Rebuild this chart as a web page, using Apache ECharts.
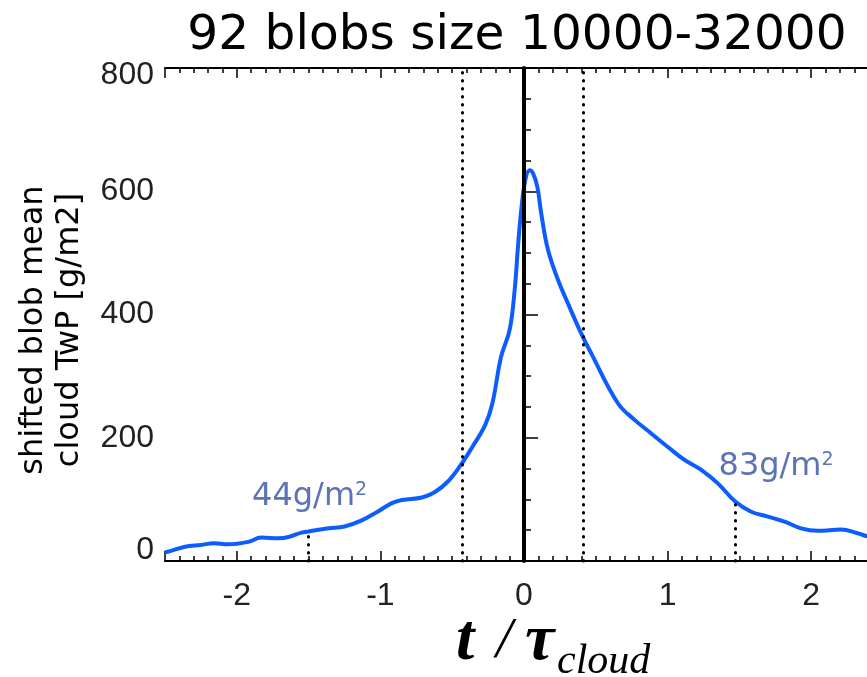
<!DOCTYPE html>
<html>
<head>
<meta charset="utf-8">
<script src="https://cdn.jsdelivr.net/npm/echarts@6/dist/echarts.min.js"></script>
<style>
  html, body { margin: 0; padding: 0; background: #fff; }
  #chart { width: 867px; height: 677px; }
</style>
</head>
<body>
<div id="chart"></div>
<script>
// t / tau_cloud positions and the mean TwP
const tVals = [-2.50, -2.48, -2.36, -2.25, -2.16, -2.06, -1.92, -1.83, -1.71, -1.64, -1.55, -1.50,
  -1.36, -1.25, -1.13, -1.02, -0.92, -0.85, -0.71, -0.62, -0.53, -0.44, -0.36, -0.27, -0.22,
  -0.16, -0.10, -0.065, -0.042, -0.019, 0.009, 0.039, 0.063, 0.093, 0.12, 0.167, 0.237, 0.306,
  0.399, 0.468, 0.654, 0.77, 0.886, 1.002, 1.118, 1.234, 1.35, 1.473, 1.582, 1.698, 1.814,
  1.93, 2.046, 2.208, 2.324, 2.394, 2.5];
const twpVals = [14, 15, 23, 26, 29, 27, 31, 38, 37, 39, 46, 48,
  53, 56, 66, 80, 94, 99, 103, 112, 129, 156, 185, 221, 256,
  331, 375, 440, 510, 570, 618, 634, 629, 607, 564, 505, 456, 418,
  369, 337, 256, 229, 207, 185, 164, 148, 126, 96, 80, 72, 64,
  53, 49, 51, 45, 40, 36];

// vertical reference lines
const zeroLine = 0;
const dottedLines = [-0.43, 0.41];
// short dotted markers: t, curve value there, annotated mean (g/m2)
const markerT = [-1.5, 1.47];
const markerTop = [48, 96];
const markerMean = [44, 83];
const markerOffsets = [[1, -14], [41, -14]];

const titleText = '92 blobs size 10000-32000';
const yNameLines = ['shifted blob mean', 'cloud TwP [g/m2]'];

const chart = echarts.init(document.getElementById('chart'), null, { renderer: 'canvas' });

const lineData = tVals.map((t, i) => [t, twpVals[i]]);

const markLineData = [
  { xAxis: zeroLine, lineStyle: { type: 'solid', width: 4, color: '#000' }, label: { show: false } }
];
dottedLines.forEach(v => {
  markLineData.push({ xAxis: v, label: { show: false } });
});
markerT.forEach((t, i) => {
  markLineData.push([
    { coord: [t, 0] },
    { coord: [t, markerTop[i]], label: { show: true, position: 'end', formatter: markerMean[i] + 'g/m{s|2}', offset: markerOffsets[i] } }
  ]);
});

const black = '#000';
const tickFont = { fontFamily: 'Liberation Sans', fontSize: 32, color: '#222' };

function xAx(pos, major, labels) {
  const ax = {
    type: 'value', gridIndex: 0, position: pos, min: -2.5, max: 2.5,
    axisLine: { show: !major, onZero: false, lineStyle: { color: black, width: 2 } },
    axisTick: { show: true, inside: true, length: major ? 10 : 5, lineStyle: { color: black, width: 1.5 } },
    splitLine: { show: false },
    axisLabel: { show: false }
  };
  if (major) ax.splitNumber = 5; else ax.interval = 0.1;
  if (labels) {
    ax.axisLabel = Object.assign({
      show: true, margin: 19,
      formatter: v => Math.abs(v - Math.round(v)) < 1e-6 ? String(Math.round(v)) : ''
    }, tickFont);
  }
  return ax;
}

const option = {
  backgroundColor: '#fff',
  animation: false,
  grid: { left: 165, top: 68, width: 718, height: 493, containLabel: false, outerBoundsMode: 'none' },
  xAxis: [xAx('bottom', false, true), xAx('bottom', true, false), xAx('top', false, false), xAx('top', true, false)],
  yAxis: {
    type: 'value', min: 0, max: 800, interval: 200,
    axisLine: { show: true, lineStyle: { color: black, width: 2 } },
    axisTick: { show: true, inside: true, length: 14, lineStyle: { color: black, width: 1.5 } },
    minorTick: { show: true, splitNumber: 4, length: 7, lineStyle: { color: black, width: 1.5 } },
    splitLine: { show: false },
    axisLabel: Object.assign({
      margin: 11,
      formatter: v => v === 0 ? '{lo|0}' : v === 800 ? '{hi|800}' : String(v),
      rich: {
        lo: { fontFamily: 'Liberation Sans', fontSize: 32, color: '#222', padding: [0, 0, 22, 0] },
        hi: { fontFamily: 'Liberation Sans', fontSize: 32, color: '#222', padding: [14, 0, 0, 0] }
      }
    }, tickFont)
  },
  series: [{
    type: 'line',
    data: lineData,
    showSymbol: false,
    smooth: 0.4,
    lineStyle: { color: '#0d5dfc', width: 4 },
    markLine: {
      silent: true,
      symbol: ['none', 'none'],
      lineStyle: { color: black, width: 3, type: [0.5, 7.5], cap: 'round' },
      label: {
        fontFamily: 'DejaVu Sans', fontSize: 32, color: '#5b74b6',
        rich: { s: { fontFamily: 'DejaVu Sans', fontSize: 19, color: '#5b74b6', verticalAlign: 'top' } }
      },
      data: markLineData
    }
  }],
  graphic: [
    {
      type: 'text', x: 517, y: 36,
      style: { text: titleText, font: '48.6px "DejaVu Sans"', fill: '#000', textAlign: 'center', textVerticalAlign: 'middle' }
    },
    {
      type: 'text', x: 52, y: 330, rotation: Math.PI / 2,
      style: { text: yNameLines.join('\n'), font: '32px "DejaVu Sans"', lineHeight: 36, fill: '#000', textAlign: 'center', textVerticalAlign: 'middle' }
    },
    {
      type: 'text', x: 456, y: 642,
      style: { text: 't', font: 'italic bold 66px "Liberation Serif"', fill: '#000', textAlign: 'left', textVerticalAlign: 'middle' }
    },
    {
      type: 'text', x: 496, y: 642,
      style: { text: '/', font: 'italic 58px "Liberation Serif"', fill: '#000', textAlign: 'left', textVerticalAlign: 'middle' }
    },
    {
      type: 'text', x: 525, y: 642,
      style: { text: 'τ', font: 'italic bold 66px "Liberation Serif"', fill: '#000', textAlign: 'left', textVerticalAlign: 'middle' }
    },
    {
      type: 'text', x: 557, y: 662,
      style: { text: 'cloud', font: 'italic 42px "Liberation Serif"', fill: '#000', textAlign: 'left', textVerticalAlign: 'middle' }
    }
  ]
};

chart.setOption(option);
</script>
</body>
</html>
